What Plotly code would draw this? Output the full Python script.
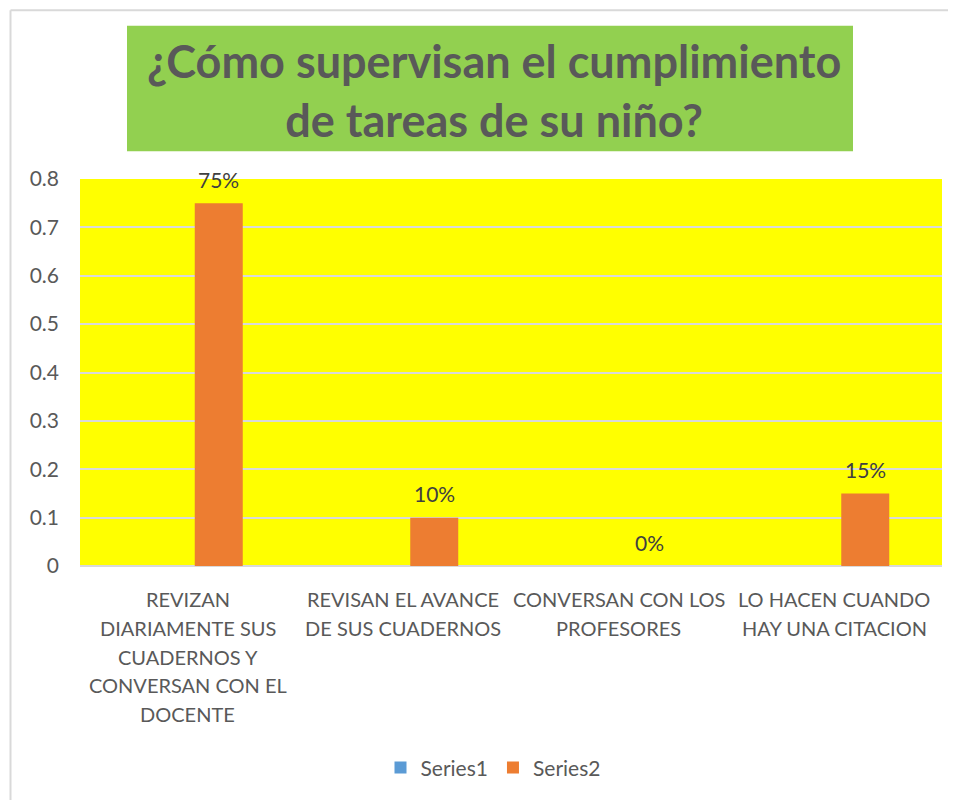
import plotly.graph_objects as go

# datos del gráfico
categorias = [
    "REVIZAN<br>DIARIAMENTE SUS<br>CUADERNOS Y<br>CONVERSAN CON EL<br>DOCENTE",
    "REVISAN EL AVANCE<br>DE SUS CUADERNOS",
    "CONVERSAN CON LOS<br>PROFESORES",
    "LO HACEN CUANDO<br>HAY UNA CITACION",
]
serie1 = [0, 0, 0, 0]
serie2 = [0.75, 0.10, 0.0, 0.15]
titulo = "¿Cómo supervisan el cumplimiento<br>de tareas de su niño?"

FUENTE = "Lato, Open Sans, sans-serif"
GRIS = "#595959"

# la página html añade 8px de margen al body
OFF = 8
ANCHO_FIG, ALTO_FIG = 956 - OFF, 800 - OFF
# área de trazado en coordenadas de la captura de referencia: x 80-942, y 179-568
L, T = 80 - OFF, 179 - OFF
W_PLOT, H_PLOT = 942 - 80, 568 - 179
R = ANCHO_FIG - L - W_PLOT
B = ALTO_FIG - T - H_PLOT


def px_x(v):
    return (v - OFF - L) / W_PLOT


def px_y(v):
    return (T + H_PLOT - (v - OFF)) / H_PLOT


idx = list(range(len(categorias)))
ancho = 48 / (W_PLOT / 4)
desfase = 7 / (W_PLOT / 4)

fig = go.Figure()
fig.add_trace(go.Bar(
    x=idx, y=serie1, name="Series1",
    marker=dict(color="#5B9BD5", line=dict(width=0)),
    width=ancho, offset=-desfase - ancho,
))
fig.add_trace(go.Bar(
    x=idx, y=serie2, name="Series2",
    marker=dict(color="#ED7D31", line=dict(width=0)),
    width=ancho, offset=desfase,
))

# etiquetas de datos por encima de cada barra
for i, v in enumerate(serie2):
    fig.add_annotation(
        x=i + desfase + ancho / 2, y=v, xref="x", yref="y",
        text=f"{v:.0%}", showarrow=False, yshift=24,
        font=dict(size=21, color="#404040", family=FUENTE),
        xanchor="center", yanchor="middle",
    )

# etiquetas de categoría, una anotación por línea (interlineado tipo Excel)
for i, cat in enumerate(categorias):
    for j, linea in enumerate(cat.split("<br>")):
        fig.add_annotation(
            x=i, xref="x", y=px_y(601 + j * 29), yref="paper",
            text=linea, showarrow=False,
            font=dict(size=20, color=GRIS, family=FUENTE),
            xanchor="center", yanchor="middle",
        )

# borde del gráfico (sólo lados superior e izquierdo visibles)
fig.add_shape(
    type="line", xref="paper", yref="paper",
    x0=px_x(10.5), x1=px_x(10.5), y0=px_y(850), y1=px_y(9.5),
    line=dict(color="#D9D9D9", width=2), layer="below",
)
fig.add_shape(
    type="line", xref="paper", yref="paper",
    x0=px_x(10.5), x1=px_x(1000), y0=px_y(9.5), y1=px_y(9.5),
    line=dict(color="#D9D9D9", width=2), layer="below",
)
# recuadro verde del título
fig.add_shape(
    type="rect", xref="paper", yref="paper",
    x0=px_x(127), x1=px_x(853), y0=px_y(151), y1=px_y(25),
    line=dict(width=0), fillcolor="#92D050", layer="below",
)
fig.add_annotation(
    x=px_x(494), y=px_y(90), xref="paper", yref="paper",
    text=titulo, showarrow=False,
    font=dict(size=45, color=GRIS, family=FUENTE, weight="bold"),
    xanchor="center", yanchor="middle",
)

fig.update_layout(
    width=ANCHO_FIG, height=ALTO_FIG,
    barmode="overlay",
    paper_bgcolor="white",
    plot_bgcolor="#FFFF00",
    font=dict(family=FUENTE, color=GRIS, size=18),
    margin=dict(l=L, r=R, t=T, b=B, pad=0),
    showlegend=True,
    legend=dict(
        orientation="h", x=px_x(493), xanchor="center",
        y=px_y(771), yanchor="middle",
        font=dict(size=21, color=GRIS, family=FUENTE),
        itemwidth=30,
    ),
    xaxis=dict(
        range=[-0.5, 3.5], showticklabels=False, showgrid=False,
        zeroline=False, showline=False, fixedrange=True,
    ),
    yaxis=dict(
        range=[0, 0.8], dtick=0.1, tickformat="~g",
        showgrid=True, gridcolor="#D9D9D9", gridwidth=2,
        zeroline=True, zerolinecolor="#D9D9D9", zerolinewidth=2,
        showline=False, ticks="", ticklabelstandoff=20,
        tickfont=dict(size=21, color=GRIS, family=FUENTE),
    ),
)

fig.write_html("out.html")
